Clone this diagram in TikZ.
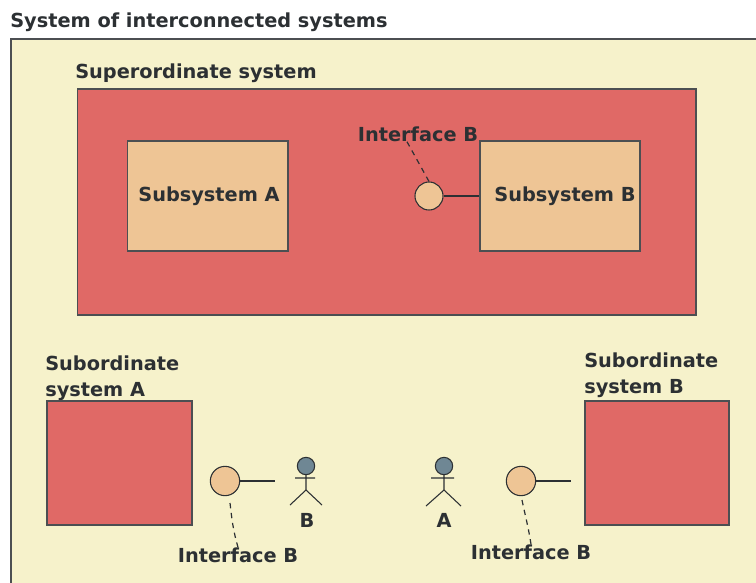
\documentclass[tikz,border=0pt]{standalone}
\usepackage{fontspec}
\setmainfont{DejaVu Sans}
\definecolor{pagebg}{HTML}{F6F2CB}
\definecolor{redbox}{HTML}{E06966}
\definecolor{tanbox}{HTML}{EEC595}
\definecolor{inkdark}{HTML}{2C3033}
\definecolor{actorfill}{HTML}{6F8794}
\tikzset{
  x=0.75pt,y=-0.75pt,
  lbl/.style={inner sep=0pt,text=inkdark,font=\fontsize{14.5pt}{19pt}\selectfont\bfseries,align=left},
  redrect/.style={draw=inkdark!85,line width=1pt,fill=redbox,inner sep=0pt},
  tanrect/.style={draw=inkdark!85,line width=1pt,fill=tanbox,inner sep=0pt},
  iface/.style={circle,draw=inkdark,line width=0.8pt,fill=tanbox,inner sep=0pt},
  wire/.style={draw=inkdark,line width=0.9pt},
  note/.style={draw=inkdark,line width=0.9pt,dash pattern=on 4pt off 3.5pt},
  actorhead/.style={circle,draw=inkdark,line width=0.8pt,fill=actorfill,minimum size=13pt,inner sep=0pt},
  limb/.style={draw=inkdark,line width=0.8pt}
}
\begin{document}
\begin{tikzpicture}
\useasboundingbox (0,0) rectangle (756,582);
\clip (0,0) rectangle (756,582);
\fill[white] (0,0) rectangle (756,582);
\fill[pagebg,draw=inkdark!85,line width=1pt] (11,39) -- (770,39) -- (770,595) -- (11,595) -- cycle;
\node[lbl,anchor=west] (title) at (10,22) {System of interconnected systems};
\node[lbl,anchor=west] (suplbl) at (75,73) {Superordinate system};
\node[redrect,minimum width=464pt,minimum height=169.5pt] (sup) at (386.5,202) {};
\node[tanrect,minimum width=120.5pt,minimum height=82.5pt] (sa) at (207.5,196) {};
\node[lbl] at (209,196) {Subsystem A};
\node[tanrect,minimum width=120pt,minimum height=82.5pt] (sb) at (560,196) {};
\node[lbl] at (565,196) {Subsystem B};
\node[iface,minimum size=21pt] (ci) at (429,196) {};
\node[lbl] (il1) at (418,134) {Interface B};
\draw[wire] (ci) -- (sb.west |- ci);
\draw[note] (il1.south) ++(-11,0) -- (ci.north);
\node[lbl,anchor=north west] (sal) at (45,356) {Subordinate\\system A};
\node[lbl,anchor=north west] (sbl) at (584,353) {Subordinate\\system B};
\node[redrect,minimum width=108.75pt,minimum height=93pt] (ra) at (119.5,463) {};
\node[redrect,minimum width=108pt,minimum height=93pt] (rb) at (657,463) {};
\node[iface,minimum size=22pt] (ca) at (225,481) {};
\coordinate (ea) at (275,481);
\draw[wire] (ca) -- (ea);
\node[lbl] (il2) at (238,555) {Interface B};
\draw[note] (230,503) .. controls (232,520) and (233,530) .. (il2.north);
\node[iface,minimum size=22pt] (cb) at (521,481) {};
\coordinate (eb) at (571,481);
\draw[wire] (cb) -- (eb);
\node[lbl] (il3) at (531,552) {Interface B};
\draw[note] (522,500) .. controls (525,515) and (528,525) .. (il3.north);
% actor B
\node[actorhead] (hb) at (306,466) {};
\coordinate (hipb) at (306,490);
\coordinate (alb) at (295,478);
\coordinate (arb) at (315,478);
\coordinate (llb) at (290,505);
\coordinate (lrb) at (322,505);
\draw[limb] (hb) -- (hipb) (alb) -- (arb) (llb) -- (hipb) -- (lrb);
\node[lbl] (bl) at (307,520) {B};
% actor A
\node[actorhead] (hc) at (444,466) {};
\coordinate (hipc) at (444,490);
\coordinate (alc) at (431,478);
\coordinate (arc) at (454,478);
\coordinate (llc) at (426,506);
\coordinate (lrc) at (461,506);
\draw[limb] (hc) -- (hipc) (alc) -- (arc) (llc) -- (hipc) -- (lrc);
\node[lbl] (al) at (444,520) {A};
\end{tikzpicture}
\end{document}
